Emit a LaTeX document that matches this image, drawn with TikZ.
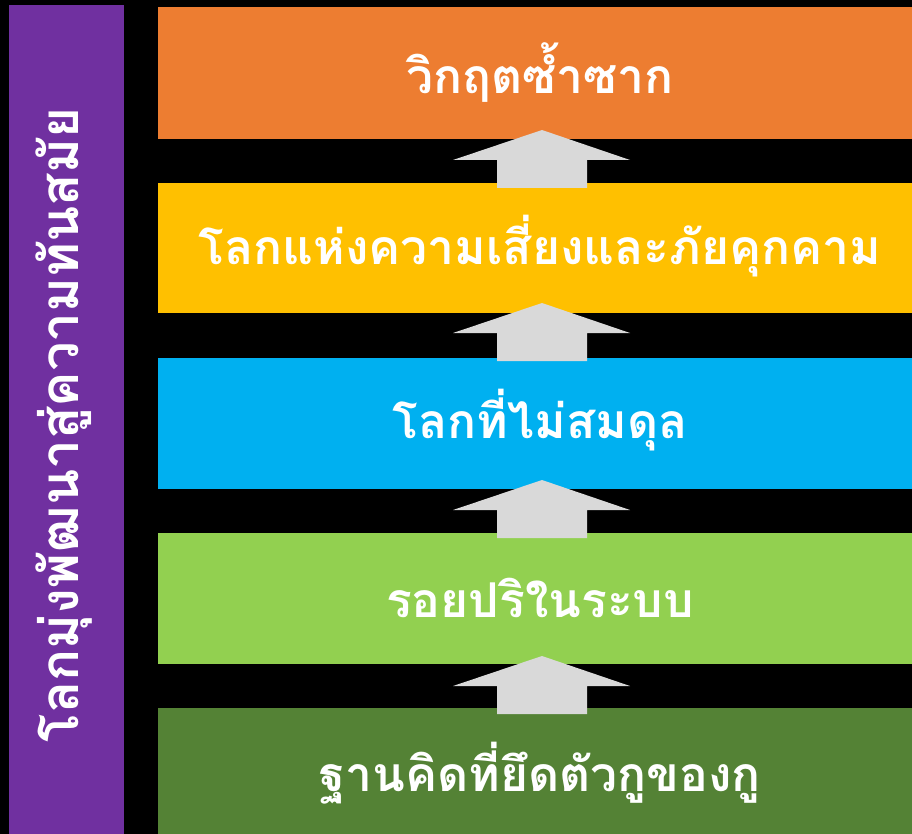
\documentclass[tikz,border=0pt]{standalone}
\usepackage{fontspec}
\newfontfamily\thaifont[Script=Thai]{Loma}
\definecolor{cpurple}{HTML}{7030A0}
\definecolor{corange}{HTML}{ED7D31}
\definecolor{cyellow}{HTML}{FFC000}
\definecolor{cblue}{HTML}{00B0F0}
\definecolor{clgreen}{HTML}{92D050}
\definecolor{cdgreen}{HTML}{548235}
\definecolor{cgray}{HTML}{D9D9D9}
\tikzset{
  band/.style={draw=none, anchor=north west, minimum width=754pt, inner sep=0pt, outer sep=0pt},
  bandtext/.style={text=white, font=\thaifont\bfseries\fontsize{48}{52}\selectfont, inner sep=0pt},
  bartextstyle/.style={text=white, font=\thaifont\bfseries\fontsize{53}{56}\selectfont, inner sep=0pt},
  uparrow/.style={fill=cgray, draw=none},
}
\begin{document}
\begin{tikzpicture}[x=1pt,y=-1pt]
\fill[black] (0,0) rectangle (912,834);
\useasboundingbox (0,0) rectangle (912,834);
% left bar
\node[fill=cpurple, anchor=north west, minimum width=115pt, minimum height=829pt, inner sep=0pt] (bar) at (9,5) {};
\node[bartextstyle, rotate=90] (bartext) at (64,425) {โลกมุ่งพัฒนาสู่ความทันสมัย};
% bands
\node[band, fill=corange, minimum height=132pt] (b1) at (158,7) {};
\node[band, fill=cyellow, minimum height=130pt] (b2) at (158,183) {};
\node[band, fill=cblue, minimum height=131pt] (b3) at (158,358) {};
\node[band, fill=clgreen, minimum height=131pt] (b4) at (158,533) {};
\node[band, fill=cdgreen, minimum height=126pt] (b5) at (158,708) {};
% arrows
\foreach \t in {130,303,480,656}{
  \fill[uparrow] (542,\t) -- (630,\t+30) -- (587,\t+30) -- (587,\t+58) -- (497,\t+58) -- (497,\t+30) -- (453,\t+30) -- cycle;
}
% texts
\node[bandtext] (t1) at (540,73) {วิกฤตซ้ำซาก};
\node[bandtext] (t2) at (540,246) {โลกแห่งความเสี่ยงและภัยคุกคาม};
\node[bandtext] (t3) at (540,420) {โลกที่ไม่สมดุล};
\node[bandtext] (t4) at (540,598) {รอยปริในระบบ};
\node[bandtext] (t5) at (540,773) {ฐานคิดที่ยึดตัวกูของกู};
\end{tikzpicture}
\end{document}
